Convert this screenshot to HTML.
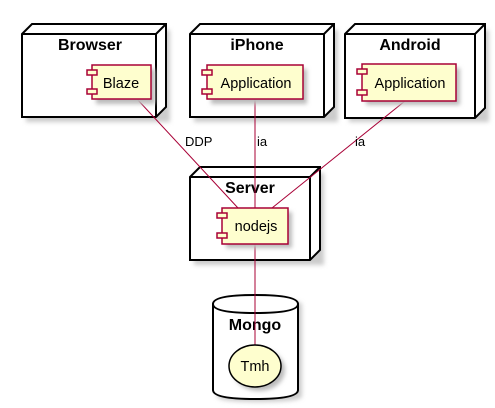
<!DOCTYPE html>
<html><head><style>html,body{margin:0;padding:0;background:#fff}svg{display:block}
text{font-family:"Liberation Sans",sans-serif}
.t{font-weight:bold;font-size:16px}.c{font-size:14.5px}.l{font-size:13px}
</style></head><body>
<svg width="495" height="408" xmlns="http://www.w3.org/2000/svg">
<defs><filter id="sh" x="-20%" y="-20%" width="150%" height="150%"><feGaussianBlur stdDeviation="2"/></filter></defs>
<g fill="#fff" stroke="#000" stroke-width="2">
<rect x="26" y="30" width="144" height="92" fill="#ccc" stroke="none" filter="url(#sh)"/>
<path d="M22 34 L32 24 L166 24 L166 107 L156 117 L22 117 Z"/><path d="M22 34 L156 34 L166 24 M156 34 L156 117" fill="none"/>
<rect x="194" y="30" width="144" height="92" fill="#ccc" stroke="none" filter="url(#sh)"/>
<path d="M190 34 L200 24 L334 24 L334 107 L324 117 L190 117 Z"/><path d="M190 34 L324 34 L334 24 M324 34 L324 117" fill="none"/>
<rect x="349" y="30" width="140" height="92" fill="#ccc" stroke="none" filter="url(#sh)"/>
<path d="M345 34 L355 24 L485 24 L485 108 L475 118 L345 118 Z"/><path d="M345 34 L475 34 L485 24 M475 34 L475 118" fill="none"/>
<rect x="194" y="173" width="130" height="92" fill="#ccc" stroke="none" filter="url(#sh)"/>
<path d="M190 177 L200 167 L320 167 L320 250 L310 260 L190 260 Z"/><path d="M190 177 L310 177 L320 167 M310 177 L310 260" fill="none"/>
<path d="M217 305 Q217 299 259 299 Q302 299 302 305 L302 396 Q302 402 259 402 Q217 402 217 396 Z" fill="#ccc" stroke="none" filter="url(#sh)"/>
<path d="M213 304 Q213 295 255 295 Q298 295 298 304 L298 390 Q298 399 255 399 Q213 399 213 390 Z"/>
<path d="M213 304 Q213 313 255 313 Q298 313 298 304" fill="none"/>
</g>
<g text-anchor="middle" fill="#000">
<text class="t" x="90" y="50">Browser</text>
<text class="t" x="257" y="50">iPhone</text>
<text class="t" x="410" y="50">Android</text>
<text class="t" x="250" y="193">Server</text>
<text class="t" x="255" y="330">Mongo</text>
</g>
<g stroke="#A80036" stroke-width="1" fill="none">
<line x1="137" y1="99" x2="238" y2="208"/>
<line x1="255" y1="99" x2="255" y2="208"/>
<line x1="405" y1="101" x2="272" y2="208"/>
<line x1="255" y1="244" x2="255" y2="345"/>
</g>
<g fill="#000">
<text class="l" x="185" y="146">DDP</text>
<text class="l" x="257" y="146">ia</text>
<text class="l" x="355" y="146">ia</text>
</g>
<g fill="#bbb" filter="url(#sh)">
<rect x="96" y="69" width="59" height="35"/>
<rect x="211" y="69" width="96" height="35"/>
<rect x="366" y="68" width="94" height="37"/>
<rect x="226" y="212" width="66" height="36"/>
<ellipse cx="259" cy="370" rx="26" ry="21"/>
</g>
<g fill="#FEFECE" stroke="#A80036" stroke-width="1.5">
<rect x="92" y="65" width="59" height="34"/><rect x="87" y="70" width="10" height="5"/><rect x="87" y="89" width="10" height="5"/>
<rect x="207" y="65" width="96" height="34"/><rect x="202" y="70" width="10" height="5"/><rect x="202" y="89" width="10" height="5"/>
<rect x="362" y="64" width="94" height="37"/><rect x="357" y="69" width="10" height="5"/><rect x="357" y="90" width="10" height="5"/>
<rect x="222" y="208" width="66" height="36"/><rect x="217" y="213" width="10" height="5"/><rect x="217" y="233" width="10" height="5"/>
</g>
<ellipse cx="255" cy="366" rx="26" ry="21" fill="#FEFECE" stroke="#000" stroke-width="1.5"/>
<g text-anchor="middle" fill="#000">
<text class="c" x="121" y="88">Blaze</text>
<text class="c" x="256" y="88">Application</text>
<text class="c" x="410" y="88">Application</text>
<text class="c" x="256" y="231">nodejs</text>
<text class="c" x="255" y="371">Tmh</text>
</g>
</svg>
</body></html>
